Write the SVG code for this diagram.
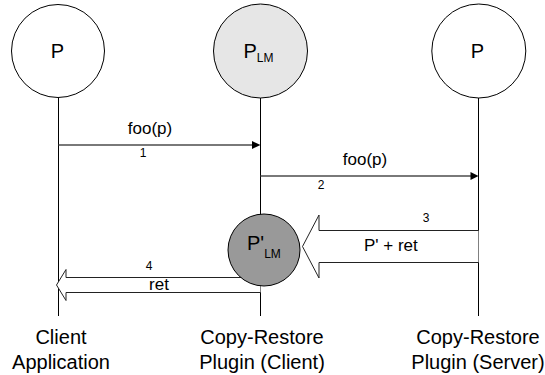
<svg xmlns="http://www.w3.org/2000/svg" width="545" height="375" viewBox="0 0 545 375">
<style>
text{font-family:"Liberation Sans",Arial,sans-serif;fill:#000}
.node{stroke:#000;stroke-width:1}
.life{stroke:#000;stroke-width:1;fill:none}
.msg{stroke:#4d4d4d;stroke-width:1.4;fill:none}
.head{fill:#000;stroke:none}
.block{fill:#fff;stroke:#222;stroke-width:1}
.lbl{font-size:17px}
.num{font-size:12px}
.big{font-size:20px}
</style>
<rect width="545" height="375" fill="#fff"/>
<g id="lifelines">
<line class="life" x1="58.5" y1="98" x2="58.5" y2="316"/>
<line class="life" x1="260.5" y1="98" x2="260.5" y2="316"/>
<line class="life" x1="478.5" y1="98" x2="478.5" y2="316"/>
</g>
<g id="connectors">
<line class="msg" x1="58.5" y1="145" x2="253" y2="145"/>
<polygon class="head" points="252,141 260.5,145 252,149"/>
<text class="lbl" x="150" y="134" text-anchor="middle">foo(p)</text>
<text class="num" x="143" y="157" text-anchor="middle">1</text>
<line class="msg" x1="260.5" y1="176" x2="471" y2="176"/>
<polygon class="head" points="470.5,172 478.5,176 470.5,180"/>
<text class="lbl" x="365" y="165" text-anchor="middle">foo(p)</text>
<text class="num" x="321" y="189" text-anchor="middle">2</text>
<polyline class="block" points="478.5,230.5 319,230.5 319,215 302.5,246.5 319,278 319,262.5 478.5,262.5"/>
<text class="num" x="426" y="222" text-anchor="middle">3</text>
<text class="lbl" x="364" y="251">P' + ret</text>
<polyline class="block" points="260.5,277.5 66,277.5 66,269.5 56.5,285 66,300.5 66,292.5 260.5,292.5"/>
<text class="num" x="149" y="270" text-anchor="middle">4</text>
<text class="lbl" x="159" y="289.5" text-anchor="middle">ret</text>
</g>
<g id="node-client-p">
<circle class="node" cx="58" cy="51" r="46.5" fill="#fff"/>
<text class="big" x="57.5" y="57.5" text-anchor="middle">P</text>
</g>
<g id="node-plm">
<circle class="node" cx="260.5" cy="51" r="47" fill="#e6e6e6"/>
<text class="big" x="243.5" y="57.5">P<tspan font-size="12" dy="4">LM</tspan></text>
</g>
<g id="node-server-p">
<circle class="node" cx="478.8" cy="51" r="47" fill="#fff"/>
<text class="big" x="477.5" y="57.5" text-anchor="middle">P</text>
</g>
<g id="node-plm-prime">
<circle class="node" cx="264" cy="250" r="36" fill="#999"/>
<text class="big" x="247" y="249.5">P'<tspan font-size="12" dy="8.5">LM</tspan></text>
</g>
<g id="labels">
<text class="big" x="61" y="344" text-anchor="middle">Client</text>
<text class="big" x="61" y="369" text-anchor="middle">Application</text>
<text class="big" x="262" y="344" text-anchor="middle">Copy-Restore</text>
<text class="big" x="262" y="369" text-anchor="middle">Plugin (Client)</text>
<text class="big" x="478" y="344" text-anchor="middle">Copy-Restore</text>
<text class="big" x="478" y="369" text-anchor="middle">Plugin (Server)</text>
</g>
</svg>
